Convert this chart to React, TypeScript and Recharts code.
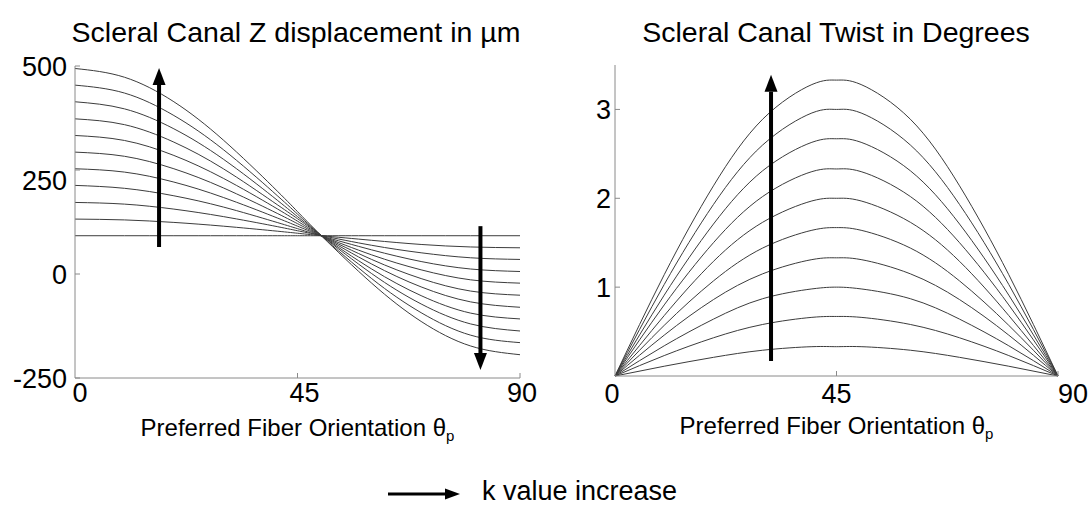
import React from 'react';
import { LineChart, Line, XAxis, YAxis, ReferenceLine, Label } from 'recharts';

const FONT = '"Liberation Sans", Arial, Helvetica, sans-serif';
const AXIS = '#8a8a8a';
const CURVE = '#3c3c3c';

// preferred fiber orientation (degrees), sample points shared by both panels
const theta = [0, 10, 20, 30, 40, 45, 50, 60, 70, 80, 90];

// Z displacement (um), one row per k value, lowest k first
const zDisplacement = [
  [92, 92, 92, 92, 92, 92, 92, 92, 92, 92, 92],
  [132, 130, 124, 115, 104, 98, 92, 81, 71, 65, 63],
  [172, 168, 156, 138, 116, 104, 92, 69, 51, 39, 35],
  [213, 206, 188, 161, 127, 109, 91, 58, 30, 12, 6],
  [253, 245, 221, 184, 139, 115, 91, 46, 10, -14, -22],
  [293, 283, 253, 207, 151, 121, 91, 35, -11, -41, -51],
  [333, 321, 285, 230, 163, 127, 91, 24, -31, -67, -80],
  [373, 359, 317, 253, 174, 133, 91, 12, -52, -94, -108],
  [414, 397, 349, 276, 186, 138, 91, 1, -72, -120, -137],
  [454, 435, 381, 299, 198, 144, 90, -11, -93, -147, -165],
  [494, 473, 414, 322, 210, 150, 90, -22, -114, -173, -194],
];

// twist (degrees), one row per k value
const twist = [
  [0, 0.11, 0.21, 0.29, 0.33, 0.33, 0.33, 0.29, 0.21, 0.11, 0],
  [0, 0.23, 0.43, 0.58, 0.66, 0.67, 0.66, 0.58, 0.43, 0.23, 0],
  [0, 0.34, 0.64, 0.87, 0.98, 1.0, 0.98, 0.87, 0.64, 0.34, 0],
  [0, 0.46, 0.86, 1.15, 1.31, 1.33, 1.31, 1.15, 0.86, 0.46, 0],
  [0, 0.57, 1.07, 1.44, 1.64, 1.67, 1.64, 1.44, 1.07, 0.57, 0],
  [0, 0.68, 1.29, 1.73, 1.97, 2.0, 1.97, 1.73, 1.29, 0.68, 0],
  [0, 0.8, 1.5, 2.02, 2.3, 2.33, 2.3, 2.02, 1.5, 0.8, 0],
  [0, 0.91, 1.71, 2.31, 2.63, 2.67, 2.63, 2.31, 1.71, 0.91, 0],
  [0, 1.03, 1.93, 2.6, 2.96, 3.0, 2.96, 2.6, 1.93, 1.03, 0],
  [0, 1.14, 2.14, 2.89, 3.28, 3.33, 3.28, 2.89, 2.14, 1.14, 0],
];

const xTicks = [0, 45, 90];
const zTicks = [-250, 0, 250, 500];
const twistTicks = [1, 2, 3];

// "k value increase" arrows, in data units: [theta, from, to]
const zArrowUp = [17, 65, 495];
const zArrowDown = [82, 115, -231];
const twistArrow = [31.7, 0.17, 3.39];

const toRows = (series: number[][]) =>
  theta.map((t, i) => {
    const row: Record<string, number> = { theta: t };
    series.forEach((s, k) => (row['k' + k] = s[i]));
    return row;
  });

const zRows = toRows(zDisplacement);
const twistRows = toRows(twist);

const arrowShape = (w: number, headLen: number, headW: number) => (p: any) => {
  const { x1, y1, x2, y2 } = p;
  const dx = x2 - x1;
  const dy = y2 - y1;
  const len = Math.hypot(dx, dy) || 1;
  const ux = dx / len;
  const uy = dy / len;
  const bx = x2 - ux * headLen;
  const by = y2 - uy * headLen;
  const px = (-uy * headW) / 2;
  const py = (ux * headW) / 2;
  return (
    <g>
      <line x1={x1} y1={y1} x2={bx} y2={by} stroke="#000" strokeWidth={w} />
      <polygon points={`${x2},${y2} ${bx + px},${by + py} ${bx - px},${by - py}`} fill="#000" />
    </g>
  );
};

function makeYTick(gap: number, nudge: Record<number, number>) {
  return (p: any) => {
    const { x, y, payload } = p;
    const ax = x + gap;
    return (
      <g>
        <line x1={ax} x2={ax + 5} y1={y} y2={y} stroke={AXIS} />
        <text x={x} y={y + (nudge[payload.value] || 0)} dy="0.36em" textAnchor="end" fontSize={27} fontFamily={FONT} fill="#000">
          {payload.value}
        </text>
      </g>
    );
  };
}

function makeXTick(gap: number, nudge: Record<number, number>) {
  return (p: any) => {
    const { x, y, payload } = p;
    const ay = y - gap;
    return (
      <g>
        {payload.value !== 0 && <line x1={x} x2={x} y1={ay} y2={ay - 5} stroke={AXIS} />}
        <text x={x + (nudge[payload.value] || 0)} y={y} dy="0.74em" textAnchor="middle" fontSize={27} fontFamily={FONT} fill="#000">
          {payload.value}
        </text>
      </g>
    );
  };
}

const AxisTitle = (p: any) => {
  const vb = p.viewBox;
  return (
    <text x={vb.x + vb.width / 2} y={vb.y + 58} textAnchor="middle" fontSize={24} fontFamily={FONT} fill="#000">
      Preferred Fiber Orientation θ
      <tspan fontSize={15} dy={5}>p</tspan>
    </text>
  );
};

const curves = (n: number) =>
  Array.from({ length: n }, (_, k) => (
    <Line
      key={k}
      type="natural"
      dataKey={'k' + k}
      stroke={CURVE}
      strokeWidth={1}
      dot={false}
      activeDot={false}
      isAnimationActive={false}
    />
  ));

const titleStyle: React.CSSProperties = {
  position: 'absolute',
  top: 18,
  fontFamily: FONT,
  fontSize: 28.5,
  lineHeight: '28px',
  color: '#000',
  whiteSpace: 'nowrap',
  transform: 'translateX(-50%)',
};

export default function App() {
  return (
    <div style={{ position: 'absolute', left: 0, top: 0, width: 1092, height: 506, background: '#fff', overflow: 'hidden' }}>
      <div style={{ ...titleStyle, left: 296 }}>Scleral Canal Z displacement in µm</div>
      <div style={{ ...titleStyle, left: 836 }}>Scleral Canal Twist in Degrees</div>

      <div style={{ position: 'absolute', left: 0, top: 0 }}>
        <LineChart width={560} height={450} data={zRows} margin={{ top: 66, right: 40, bottom: 2, left: 0 }}>
          <XAxis
            dataKey="theta"
            type="number"
            domain={[0, 90]}
            ticks={xTicks}
            stroke={AXIS}
            tickLine={false}
            tickSize={0}
            tickMargin={4}
            height={70}
            tick={makeXTick(4, { 0: 5, 45: 7, 90: 2 })}
          >
            <Label content={AxisTitle} />
          </XAxis>
          <YAxis
            type="number"
            domain={[-250, 500]}
            ticks={zTicks}
            stroke={AXIS}
            tickLine={false}
            tickSize={0}
            tickMargin={8}
            width={75}
            tick={makeYTick(8, { 250: 10 })}
          />
          {curves(zDisplacement.length)}
          <ReferenceLine
            segment={[{ x: zArrowUp[0], y: zArrowUp[1] }, { x: zArrowUp[0], y: zArrowUp[2] }]}
            shape={arrowShape(4, 17, 13)}
          />
          <ReferenceLine
            segment={[{ x: zArrowDown[0], y: zArrowDown[1] }, { x: zArrowDown[0], y: zArrowDown[2] }]}
            shape={arrowShape(4, 17, 13)}
          />
        </LineChart>
      </div>

      <div style={{ position: 'absolute', left: 540, top: 0 }}>
        <LineChart width={552} height={450} data={twistRows} margin={{ top: 65, right: 34, bottom: 2, left: 0 }}>
          <XAxis
            dataKey="theta"
            type="number"
            domain={[0, 90]}
            ticks={xTicks}
            stroke={AXIS}
            tickLine={false}
            tickSize={0}
            tickMargin={7}
            height={72}
            tick={makeXTick(7, { 0: -3, 45: 0, 90: 15 })}
          >
            <Label content={AxisTitle} />
          </XAxis>
          <YAxis
            type="number"
            domain={[0, 3.5]}
            ticks={twistTicks}
            stroke={AXIS}
            tickLine={false}
            tickSize={0}
            tickMargin={4}
            width={75}
            tick={makeYTick(4, {})}
          />
          {curves(twist.length)}
          <ReferenceLine
            segment={[{ x: twistArrow[0], y: twistArrow[1] }, { x: twistArrow[0], y: twistArrow[2] }]}
            shape={arrowShape(4, 17, 13)}
          />
        </LineChart>
      </div>

      <svg style={{ position: 'absolute', left: 386, top: 484 }} width={80} height={20}>
        <line x1={2} y1={10} x2={60} y2={10} stroke="#000" strokeWidth={3} />
        <polygon points="74,10 59,4.5 59,15.5" fill="#000" />
      </svg>
      <div
        style={{
          position: 'absolute',
          left: 482,
          top: 478,
          fontFamily: FONT,
          fontSize: 27,
          lineHeight: '27px',
          color: '#000',
          whiteSpace: 'nowrap',
        }}
      >
        k value increase
      </div>
    </div>
  );
}
